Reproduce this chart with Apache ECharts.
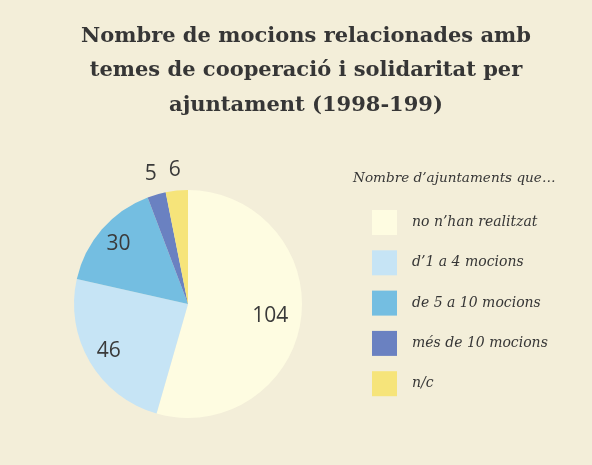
<!DOCTYPE html>
<html>
<head>
<meta charset="utf-8">
<script src="https://cdn.jsdelivr.net/npm/echarts@6/dist/echarts.min.js"></script>
<style>
  html, body { margin: 0; padding: 0; background: #F3EED9; }
  #chart { width: 592px; height: 465px; }
</style>
</head>
<body>
<div id="chart"></div>
<script>
// Categories, values and colours of the pie
const categories = ["no n’han realitzat", "d’1 a 4 mocions", "de 5 a 10 mocions", "més de 10 mocions", "n/c"];
const values = [104, 46, 30, 5, 6];
const colors = ["#FEFCE1", "#C6E4F5", "#74BEE1", "#6A81C1", "#F6E47A"];
// Where each value label sits: the big slice, the medium slices, or outside the rim
const labelPlace = ["big", "mid", "mid", "out", "out"];

const titleText = "Nombre de mocions relacionades amb\ntemes de cooperació i solidaritat per\najuntament (1998-199)";
const legendTitle = "Nombre d’ajuntaments que…";

const center = [188, 304];
const labelFont = { fontFamily: "Open Sans", fontSize: 21, color: "#3a3a3a" };

// Transparent ring used only to place the value labels at a chosen radius
function labelRing(radius, place) {
  return {
    type: "pie",
    radius: radius,
    center: center,
    startAngle: 90,
    clockwise: true,
    silent: true,
    avoidLabelOverlap: false,
    itemStyle: { color: "transparent" },
    emphasis: { disabled: true },
    label: Object.assign({ position: "inside", formatter: "{c}" }, labelFont),
    labelLine: { show: false },
    data: categories.map((name, i) => ({
      name: name,
      value: values[i],
      label: { show: labelPlace[i] === place }
    }))
  };
}

const chart = echarts.init(document.getElementById("chart"));
chart.setOption({
  backgroundColor: "#F3EED9",
  animation: false,
  title: [
    {
      text: titleText,
      left: 301,
      top: 14,
      textAlign: "center",
      textStyle: {
        fontFamily: "DejaVu Serif",
        fontWeight: "bold",
        fontSize: 21,
        lineHeight: 34.5,
        color: "#363636"
      }
    },
    {
      text: legendTitle,
      left: 348,
      top: 166,
      textStyle: {
        fontFamily: "DejaVu Serif",
        fontStyle: "italic",
        fontWeight: "normal",
        fontSize: 13.6,
        color: "#363636"
      }
    }
  ],
  legend: {
    orient: "vertical",
    left: 372,
    top: 210,
    padding: 0,
    itemWidth: 25,
    itemHeight: 25,
    itemGap: 15.3,
    selectedMode: false,
    data: categories.map((name, i) => ({ name: name, icon: "rect", itemStyle: { color: colors[i] } })),
    textStyle: {
      fontFamily: "DejaVu Serif",
      fontStyle: "italic",
      fontSize: 14,
      color: "#363636",
      padding: [0, 0, 0, 10]
    }
  },
  series: [
    {
      type: "pie",
      radius: 114,
      center: center,
      startAngle: 90,
      clockwise: true,
      silent: true,
      label: { show: false },
      labelLine: { show: false },
      emphasis: { disabled: true },
      data: categories.map((name, i) => ({
        name: name,
        value: values[i],
        itemStyle: { color: colors[i] }
      }))
    },
    labelRing([46, 114], "big"),
    labelRing([64, 114], "mid"),
    labelRing([114, 150], "out")
  ]
});
</script>
</body>
</html>
